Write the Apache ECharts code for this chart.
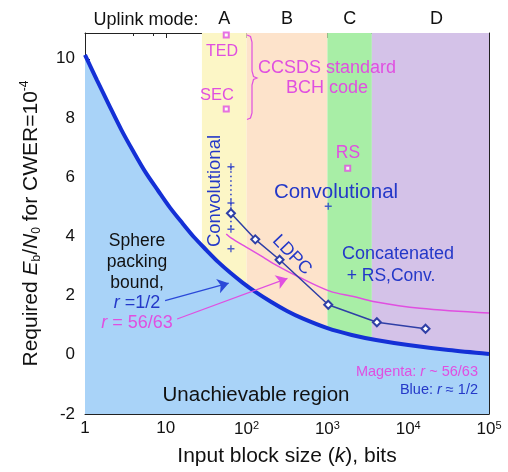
<!DOCTYPE html>
<html><head><meta charset="utf-8">
<script src="https://cdn.jsdelivr.net/npm/echarts@6/dist/echarts.min.js"></script>
<style>html,body{margin:0;padding:0;background:#fff}#c{width:508px;height:472px}</style>
</head><body><div id="c"></div>
<script>
// ---- data ----
const sphereK    = [1, 1.41, 2, 2.82, 4, 5.6, 8, 11.2, 16, 22.4, 32, 44.7, 63, 89, 126, 200, 316, 500, 1000, 2000, 4000, 10000, 31623, 100000];
const sphereEbN0 = [10.13, 9.27, 8.42, 7.6, 6.85, 6.17, 5.55, 4.98, 4.45, 3.97, 3.53, 3.13, 2.77, 2.44, 2.14, 1.79, 1.48, 1.22, 0.9, 0.67, 0.5, 0.33, 0.16, 0.03];
const bchBoundK    = [56, 64, 100, 160, 215, 420, 1070, 2100, 3700, 14000, 100000];
const bchBoundEbN0 = [4.08, 3.95, 3.63, 3.3, 3.08, 2.66, 2.15, 1.97, 1.8, 1.57, 1.41];
const ldpcK    = [64, 128, 256, 1024, 4096, 16384];
const ldpcEbN0 = [4.78, 3.9, 3.21, 1.69, 1.1, 0.88];
const convK    = [64, 64, 64, 64, 1024];
const convEbN0 = [6.35, 5.13, 4.24, 3.58, 5.02];
const convSpreadK    = [64, 64];
const convSpreadEbN0 = [6.35, 4.24];
const codeK    = [56, 56, 1784];      // TED, SEC (BCH), RS
const codeEbN0 = [10.8, 8.3, 6.3];
const modeNames = ['A', 'B', 'C', 'D'];
const modeEdges = [28, 100, 1000, 3550, 100000];
const modeColors = ['#fcf6c6', '#fde3cb', '#a8eea6', '#d4c2e8'];
const xTickExp = [0, 1, 2, 3, 4, 5];
const yTicks = [-2, 0, 2, 4, 6, 8, 10];
const blueArrow    = [[9.8, 1.83], [60, 2.42]];
const magentaArrow = [[13.8, 1.21], [320, 2.58]];

// ---- helpers ----
const F = '"Liberation Sans", Arial, Helvetica, sans-serif';
const MAG = '#e04fe0', BLU = '#2438c8', DARKBLU = '#2f3fa6', SPH = '#1430d6', BLK = '#111';
const zip = (a, b) => a.map((v, i) => [v, b[i]]);

function txt(x, y, text, size, color, extra) {
  const el = {type: 'text', x: x, y: y, z: 100, silent: true,
    style: {text: text, fontSize: size, fontFamily: F, fill: color, align: 'center', verticalAlign: 'middle'}};
  if (extra) {
    if (extra.rotation !== undefined) el.rotation = extra.rotation;
    if (extra.align) el.style.align = extra.align;
    if (extra.rich) el.style.rich = extra.rich;
  }
  return el;
}
const itRich = (size, color) => ({i: {fontStyle: 'italic', fontSize: size, fontFamily: F, fill: color, color: color},
                                  n: {fontSize: size, fontFamily: F, fill: color, color: color}});

const bandData = modeNames.map((n, i) => [
  {name: n, xAxis: modeEdges[i], itemStyle: {color: modeColors[i]},
   label: {offset: [i === 3 ? 6 : 0, 0]}},
  {xAxis: modeEdges[i + 1]}
]);

const arrowLine = (pts, color) => [
  {coord: pts[0], symbol: 'none', lineStyle: {color: color, width: 1.2, type: 'solid'}, itemStyle: {color: color}},
  {coord: pts[1], symbol: 'arrow', symbolSize: 11, itemStyle: {color: color}}
];

const chart = echarts.init(document.getElementById('c'), null, {renderer: 'canvas'});
chart.setOption({
  animation: false,
  backgroundColor: '#fff',
  grid: {left: 85, right: 19, top: 33, bottom: 53, containLabel: false},
  xAxis: [{
    type: 'log', logBase: 10, min: 1, max: 100000, position: 'bottom',
    axisLine: {onZero: false, lineStyle: {color: '#222', width: 1}},
    axisTick: {inside: true, length: 5, lineStyle: {color: '#222'}},
    minorTick: {show: true, splitNumber: 3, length: 3, lineStyle: {color: '#222'}},
    splitLine: {show: false},
    axisLabel: {
      margin: 6, color: BLK, fontSize: 17, fontFamily: F,
      formatter: function (v) {
        const e = Math.round(Math.log10(v));
        if (xTickExp.indexOf(e) < 0) return '';
        if (e === 0) return '1';
        if (e === 1) return '10';
        return '10{s|' + e + '}';
      },
      rich: {s: {fontSize: 11, fontFamily: F, color: BLK, verticalAlign: 'top', padding: [0, 0, 8, 0]}}
    },
    name: 'Input block size ({i|k}), bits', nameLocation: 'middle', nameGap: 32,
    nameTextStyle: {fontSize: 21, fontFamily: F, color: BLK,
      rich: {i: {fontStyle: 'italic', fontSize: 21, fontFamily: F, color: BLK}}}
  }, {
    type: 'log', logBase: 10, min: 1, max: 100000, position: 'top',
    axisLine: {onZero: false, lineStyle: {color: '#222', width: 1}},
    axisTick: {inside: true, length: 5, lineStyle: {color: '#222'}},
    minorTick: {show: true, splitNumber: 3, length: 3, lineStyle: {color: '#222'}},
    splitLine: {show: false}, axisLabel: {show: false}
  }],
  yAxis: [{
    type: 'value', min: -2, max: 10.87, interval: 2, position: 'left',
    axisLine: {show: true, onZero: false, lineStyle: {color: '#222', width: 1}},
    axisTick: {show: true, inside: true, length: 5, lineStyle: {color: '#222'}},
    splitLine: {show: false},
    axisLabel: {margin: 10, color: BLK, fontSize: 17, fontFamily: F, showMaxLabel: false,
      formatter: v => (yTicks.indexOf(v) >= 0 ? String(v) : '')},
    name: 'Required {i|E}{sub|b}/{i|N}{sub|0} for CWER=10{sup|-4}',
    nameLocation: 'middle', nameRotate: 90, nameGap: 42,
    nameTextStyle: {fontSize: 21, fontFamily: F, color: BLK, lineHeight: 24,
      rich: {
        i: {fontStyle: 'italic', fontSize: 21, fontFamily: F, color: BLK, lineHeight: 24},
        sub: {fontSize: 12, fontFamily: F, color: BLK, verticalAlign: 'bottom', lineHeight: 24, padding: [8, 0, 0, 0]},
        sup: {fontSize: 12, fontFamily: F, color: BLK, verticalAlign: 'top', lineHeight: 24, padding: [0, 0, 8, 0]}
      }}
  }, {
    type: 'value', min: -2, max: 10.87, interval: 2, position: 'right',
    axisLine: {show: true, onZero: false, lineStyle: {color: '#222', width: 1}},
    axisTick: {show: true, inside: true, length: 5, lineStyle: {color: '#222'}},
    splitLine: {show: false}, axisLabel: {show: false}
  }],
  series: [
    {
      name: 'bands', type: 'line', data: [], z: 1, silent: true,
      markArea: {silent: true, z: 1,
        label: {show: true, position: 'top', distance: 5, color: BLK, fontSize: 18, fontFamily: F},
        data: bandData}
    },
    {
      name: 'Sphere packing bound r=1/2', type: 'line', smooth: 0.3, symbol: 'none', z: 3,
      data: zip(sphereK, sphereEbN0),
      lineStyle: {color: SPH, width: 4},
      areaStyle: {color: '#a9d3f8', opacity: 1, origin: 'start'}
    },
    {
      name: 'Sphere packing bound r=56/63', type: 'line', smooth: 0.35, symbol: 'none', z: 4,
      data: zip(bchBoundK, bchBoundEbN0),
      lineStyle: {color: MAG, width: 1.5}
    },
    {
      name: 'LDPC', type: 'line', z: 6, symbol: 'emptyDiamond', symbolSize: 8,
      data: zip(ldpcK, ldpcEbN0),
      lineStyle: {color: DARKBLU, width: 1.5},
      itemStyle: {color: DARKBLU, borderColor: DARKBLU, borderWidth: 1.3}
    },
    {
      name: 'Convolutional spread', type: 'line', z: 5, symbol: 'none',
      data: zip(convSpreadK, convSpreadEbN0),
      lineStyle: {color: BLU, width: 1.5, type: [1.5, 3]}
    },
    {
      name: 'Convolutional', type: 'scatter', z: 7,
      symbol: 'path://M4,0H6V4H10V6H6V10H4V6H0V4H4Z', symbolSize: 7,
      data: zip(convK, convEbN0), itemStyle: {color: BLU}
    },
    {
      name: 'BCH/RS', type: 'scatter', z: 7, symbol: 'emptyRect', symbolSize: 5,
      data: zip(codeK, codeEbN0), itemStyle: {color: MAG, borderColor: MAG, borderWidth: 1.3}
    },
    {
      name: 'arrows', type: 'line', data: [], z: 8,
      markLine: {silent: true, symbol: ['none', 'arrow'], symbolSize: 11, label: {show: false},
        data: [arrowLine(blueArrow, '#2a48d8'), arrowLine(magentaArrow, MAG)]}
    }
  ],
  graphic: [
    txt(146, 20, 'Uplink mode:', 18, BLK),
    txt(222, 52, 'TED', 16, MAG),
    txt(217, 95, 'SEC', 16.5, MAG),
    {type: 'polyline', z: 100, silent: true,
     shape: {points: [[247,35],[250.5,36.5],[252,42],[252,71],[253.5,76.5],[257,78],[253.5,79.5],[252,85],[252,113],[250.5,118],[247,119.5]]},
     style: {stroke: MAG, fill: null, lineWidth: 1.2}},
    txt(327, 68, 'CCSDS standard', 18, MAG),
    txt(327, 88, 'BCH code', 18, MAG),
    txt(348, 153, 'RS', 17.5, MAG),
    txt(336, 192, 'Convolutional', 20.5, BLU),
    txt(215, 191, 'Convolutional', 18.5, BLU, {rotation: Math.PI / 2}),
    txt(292, 255, 'LDPC', 18, BLU, {rotation: -0.8}),
    txt(398, 254, 'Concatenated', 18, BLU),
    txt(391, 276, '+ RS,Conv.', 17.5, BLU),
    txt(137, 241, 'Sphere', 17.5, BLK),
    txt(137, 262, 'packing', 17.5, BLK),
    txt(137, 283, 'bound,', 17.5, BLK),
    txt(137, 303, '{i|r} {n|=1/2}', 18, BLU, {rich: itRich(18, BLU)}),
    txt(137, 323, '{i|r} {n|= 56/63}', 18, MAG, {rich: itRich(18, MAG)}),
    txt(256, 395, 'Unachievable region', 20.5, BLK),
    txt(478, 372, '{n|Magenta: }{i|r}{n| ~ 56/63}', 14.5, MAG, {align: 'right', rich: itRich(14.5, MAG)}),
    txt(478, 390, '{n|Blue: }{i|r}{n| ≈ 1/2}', 14.5, BLU, {align: 'right', rich: itRich(14.5, BLU)})
  ]
});
</script></body></html>
